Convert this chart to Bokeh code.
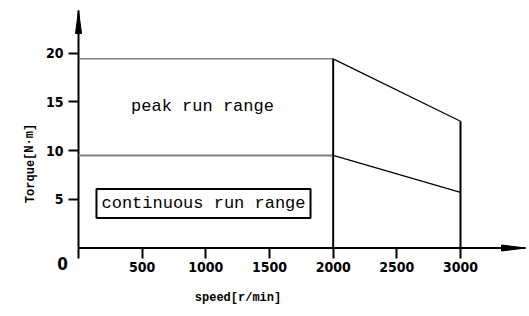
from bokeh.plotting import figure
from bokeh.models import Range1d, Label, FixedTicker
from bokeh.embed import file_html
from bokeh.resources import INLINE

# data
speed = [0, 2000, 3000]
peak_torque = [19.4, 19.4, 13.0]
cont_torque = [9.5, 9.5, 5.7]
x_ticks = [500, 1000, 1500, 2000, 2500, 3000]
y_ticks = [5, 10, 15, 20]

W, H = 529, 316
# pixel layout of the origin and scales
OX, OY = 78.0, 247.5          # pixel of (0, 0)
SX, SY = 0.127333, 9.75       # pixels per unit
X0, X1 = -OX / SX, (W - OX) / SX
Y0, Y1 = (OY - H) / SY, OY / SY

def dx(pix):
    return (pix - OX) / SX

def dy(pix):
    return (OY - pix) / SY

p = figure(width=W, height=H, output_backend="svg", toolbar_location=None,
           x_range=Range1d(X0, X1), y_range=Range1d(Y0, Y1),
           min_border=0)
p.grid.visible = False
p.outline_line_color = None
p.background_fill_color = "white"
p.border_fill_color = "white"

NUM_FONT = "DejaVu Sans Condensed"
MONO = "Liberation Mono"

p.xaxis.fixed_location = 0
p.yaxis.fixed_location = 0
p.xaxis.ticker = FixedTicker(ticks=x_ticks)
p.yaxis.ticker = FixedTicker(ticks=y_ticks)
for ax in (p.xaxis, p.yaxis):
    ax.axis_line_color = None
    ax.major_tick_line_width = 2
    ax.major_tick_line_color = "black"
    ax.major_tick_in = 0
    ax.major_tick_out = 10
    ax.minor_tick_line_color = None
    ax.major_label_text_font = NUM_FONT
    ax.major_label_text_font_style = "bold"
    ax.major_label_text_font_size = "14px"
    ax.major_label_text_color = "black"
p.xaxis.major_label_standoff = 4
p.yaxis.major_label_standoff = 5

# axis lines with arrow heads
x_tip, y_tip, y_low = dx(525), dy(10), dy(258)
p.segment(x0=[0, 0], y0=[0, y_low], x1=[x_tip, 0], y1=[0, y_tip],
          line_color="black", line_width=2)
p.patch([x_tip, dx(501), dx(501)], [0, 3 / SY, -3 / SY], color="black")
p.patch([0, -3 * 1 / SX, 3 / SX], [y_tip, dy(33), dy(33)], color="black")

# curves
p.line(speed[:2], peak_torque[:2], line_color="#444444", line_width=1)
p.line(speed[1:], peak_torque[1:], line_color="black", line_width=1.2)
p.line(speed[:2], cont_torque[:2], line_color="#808080", line_width=2)
p.line(speed[1:], cont_torque[1:], line_color="black", line_width=1.2)
p.segment(x0=speed[1:], y0=[0, 0], x1=speed[1:], y1=peak_torque[1:],
          line_color="black", line_width=2)

# texts
p.add_layout(Label(x=dx(202), y=dy(106), text="peak run range", text_font=MONO,
                   text_font_size="17px", text_align="center", text_baseline="middle",
                   text_color="black"))
p.add_layout(Label(x=dx(203), y=dy(203), text="continuous run range", text_font=MONO,
                   text_font_size="17px", text_align="center", text_baseline="middle",
                   text_color="black", border_line_color="black", border_line_width=2,
                   padding=5, background_fill_color="white"))
p.add_layout(Label(x=dx(62), y=dy(262.5), text="0", text_font=NUM_FONT,
                   text_font_style="bold", text_font_size="17px", text_align="center",
                   text_baseline="middle", text_color="black"))
p.add_layout(Label(x=dx(30), y=dy(163), text="Torque[N·m]",
                   angle=1.5708, text_font=MONO, text_font_style="bold",
                   text_font_size="12px", text_align="center", text_baseline="middle",
                   text_color="black"))
p.add_layout(Label(x=dx(237.5), y=dy(297), text="speed[r/min]",
                   text_font=MONO, text_font_style="bold", text_font_size="12px",
                   text_align="center", text_baseline="middle", text_color="black"))

open("out.html", "w").write(file_html(p, INLINE))
